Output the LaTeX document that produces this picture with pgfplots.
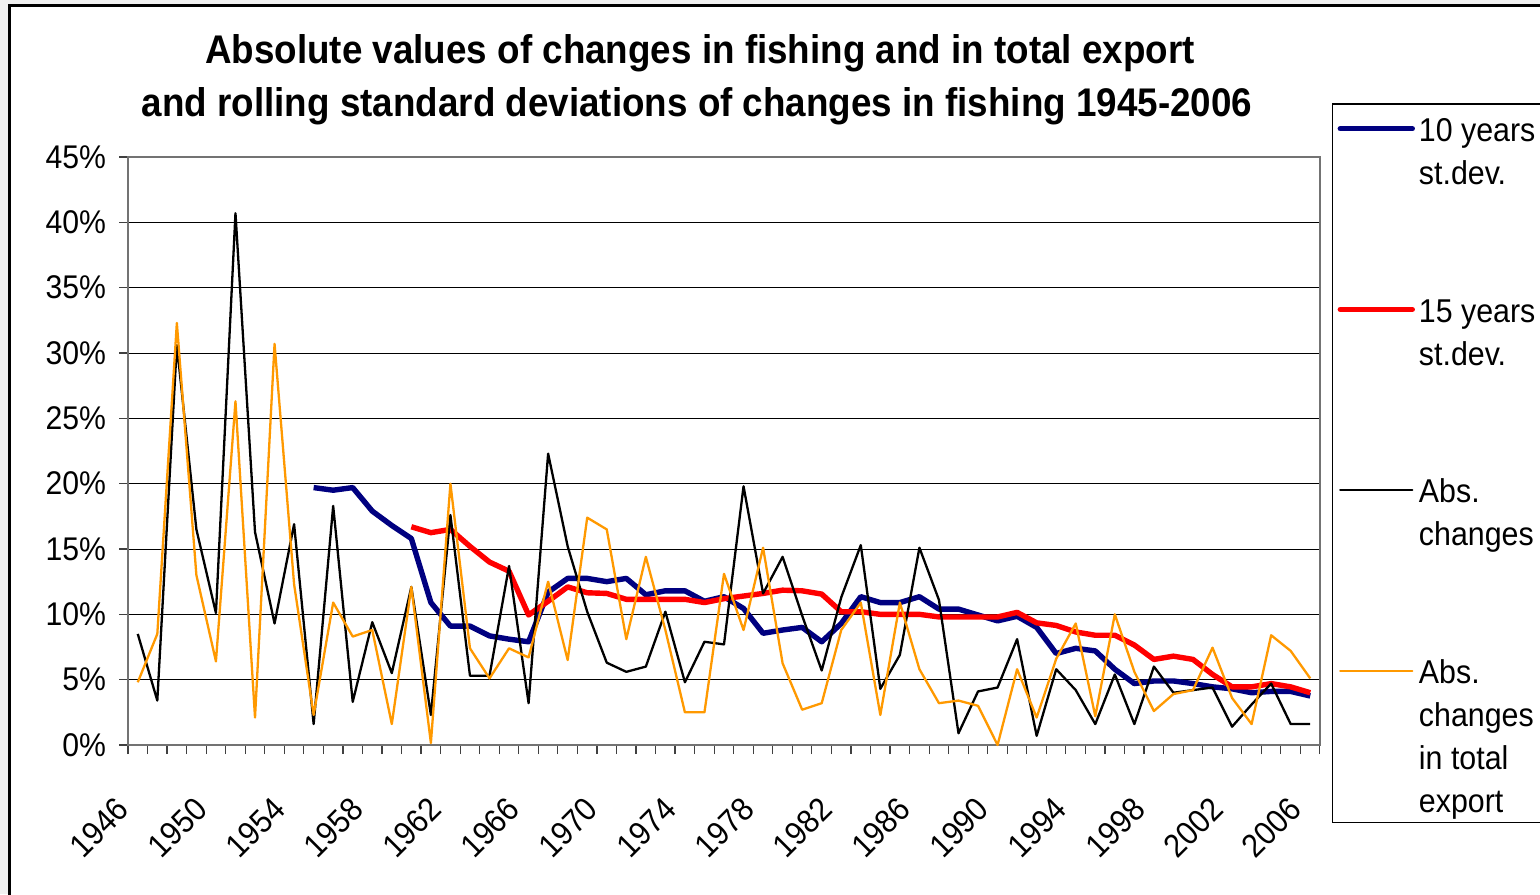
\documentclass[border=0pt]{standalone}
\usepackage{fontspec}
\setmainfont{Liberation Sans}[FakeStretch=0.92]
\usepackage{pgfplots}
\pgfplotsset{compat=1.18}

\definecolor{xlNavy}{RGB}{0,0,128}
\definecolor{xlRed}{RGB}{255,0,0}
\definecolor{xlOrange}{RGB}{255,153,0}

\newcommand{\tickfont}{\fontsize{16.4}{19}\selectfont}
\newcommand{\legfont}{\fontsize{16.5}{21.5}\selectfont}
\newcommand{\titlefont}{\fontsize{20}{26}\selectfont\bfseries}

\begin{document}
\begin{tikzpicture}
% picture frame: 1540x894 px at 0.5pt per px, origin at the plot's lower left corner
\useasboundingbox (-64pt,-74.5pt) rectangle (706pt,372.5pt);
\clip (-64pt,-74.5pt) rectangle (706pt,372.5pt);
\fill[black!6] (-64pt,-74.5pt) rectangle (706pt,372.5pt);
\fill[white] (-59pt,-80pt) rectangle (710pt,369.5pt);
\draw[black,line width=1.5pt] (-59pt,-80pt) -- (-59pt,369.5pt) -- (710pt,369.5pt);

\node[font=\titlefont,anchor=base] at (286pt,340.5pt)
  {Absolute values of changes in fishing and in total export};
\node[font=\titlefont,anchor=base] at (284.5pt,314pt)
  {and rolling standard deviations of changes in fishing 1945-2006};

\begin{axis}[
    at={(0pt,0pt)}, anchor=south west,
    scale only axis,
    width=596pt, height=294pt,
    xmin=1945.5, xmax=2006.5,
    ymin=0, ymax=45,
    clip=false,
    tick pos=left,
    xtick={1945.5,1946.5,...,2006.5},
    xticklabels={},
    extra x ticks={1946,1950,1954,1958,1962,1966,1970,1974,1978,1982,1986,1990,1994,1998,2002,2006},
    extra x tick labels={1946,1950,1954,1958,1962,1966,1970,1974,1978,1982,1986,1990,1994,1998,2002,2006},
    extra x tick style={major tick length=0pt, grid=none},
    ytick={0,5,...,45},
    yticklabel={\pgfmathprintnumber{\tick}\%},
    /pgf/number format/assume math mode=true,
    ymajorgrids=true,
    major grid style={draw=black, line width=0.5pt},
    tick align=outside,
    major tick length=4.5pt,
    tick style={draw=black!75, line width=0.6pt},
    axis line style={draw=black!55, line width=1pt},
    tick label style={font=\tickfont},
    x tick label style={rotate=45, anchor=east, xshift=-7pt},
    xticklabel shift=22pt,
    yticklabel shift=3pt,
    legend cell align=left,
    legend style={
        at={(1.0098,1.0913)}, anchor=north west,
        draw=black, line width=0.6pt, fill=white,
        inner xsep=2.65pt, inner ysep=3.4pt,
        row sep=52pt, column sep=0pt,
        nodes={inner xsep=2pt, inner ysep=0pt, font=\legfont, align=left, anchor=north west}
    },
    legend image code/.code={\draw[#1,line cap=round] (0pt,-9pt) -- (36pt,-9pt);},
]

% 10 years st.dev.
\addplot[xlNavy, line width=2.7pt, line join=round] coordinates {
(1955,19.7)(1956,19.5)(1957,19.7)(1958,17.9)(1959,16.8)(1960,15.8)
(1961,10.9)(1962,9.1)(1963,9.1)(1964,8.35)(1965,8.1)(1966,7.9)
(1967,11.7)(1968,12.75)(1969,12.75)(1970,12.5)(1971,12.75)(1972,11.5)
(1973,11.8)(1974,11.8)(1975,11.0)(1976,11.35)(1977,10.45)(1978,8.55)
(1979,8.8)(1980,9.0)(1981,7.9)(1982,9.3)(1983,11.35)(1984,10.9)
(1985,10.9)(1986,11.35)(1987,10.4)(1988,10.4)(1989,9.95)(1990,9.5)
(1991,9.85)(1992,9.0)(1993,7.0)(1994,7.4)(1995,7.2)(1996,5.8)
(1997,4.7)(1998,4.9)(1999,4.9)(2000,4.7)(2001,4.45)(2002,4.3)
(2003,4.0)(2004,4.1)(2005,4.1)(2006,3.75)
};
\addlegendentry{\strut 10 years\\st.dev.\strut}

% 15 years st.dev.
\addplot[xlRed, line width=2.7pt, line join=round] coordinates {
(1960,16.7)(1961,16.25)(1962,16.5)(1963,15.2)(1964,14.0)(1965,13.3)
(1966,9.95)(1967,11.0)(1968,12.1)(1969,11.65)(1970,11.6)(1971,11.15)
(1972,11.15)(1973,11.15)(1974,11.15)(1975,10.9)(1976,11.2)(1977,11.4)
(1978,11.6)(1979,11.85)(1980,11.8)(1981,11.55)(1982,10.2)(1983,10.2)
(1984,10.0)(1985,10.0)(1986,10.0)(1987,9.8)(1988,9.8)(1989,9.8)
(1990,9.8)(1991,10.15)(1992,9.35)(1993,9.15)(1994,8.65)(1995,8.4)
(1996,8.4)(1997,7.65)(1998,6.55)(1999,6.8)(2000,6.55)(2001,5.4)
(2002,4.45)(2003,4.45)(2004,4.7)(2005,4.45)(2006,4.0)
};
\addlegendentry{\strut 15 years\\st.dev.\strut}

% absolute changes in fishing
\addplot[black, line width=1.15pt, line join=round] coordinates {
(1946,8.5)(1947,3.4)(1948,30.6)(1949,16.5)(1950,10.1)(1951,40.7)
(1952,16.3)(1953,9.3)(1954,16.9)(1955,1.6)(1956,18.3)(1957,3.3)
(1958,9.4)(1959,5.5)(1960,12.1)(1961,2.3)(1962,17.6)(1963,5.3)
(1964,5.3)(1965,13.7)(1966,3.2)(1967,22.3)(1968,15.2)(1969,10.2)
(1970,6.3)(1971,5.6)(1972,6.0)(1973,10.2)(1974,4.8)(1975,7.9)
(1976,7.7)(1977,19.8)(1978,11.6)(1979,14.4)(1980,9.9)(1981,5.7)
(1982,11.3)(1983,15.3)(1984,4.3)(1985,6.9)(1986,15.1)(1987,11.1)
(1988,0.9)(1989,4.1)(1990,4.4)(1991,8.1)(1992,0.7)(1993,5.8)
(1994,4.2)(1995,1.6)(1996,5.4)(1997,1.6)(1998,6.0)(1999,4.0)
(2000,4.2)(2001,4.4)(2002,1.4)(2003,3.1)(2004,4.7)(2005,1.6)
(2006,1.6)
};
\addlegendentry{\strut Abs.\\changes\strut}

% absolute changes in total export
\addplot[xlOrange, line width=1.15pt, line join=round] coordinates {
(1946,4.8)(1947,8.5)(1948,32.3)(1949,13.0)(1950,6.4)(1951,26.3)
(1952,2.1)(1953,30.7)(1954,12.3)(1955,2.3)(1956,10.9)(1957,8.3)
(1958,8.8)(1959,1.6)(1960,12.1)(1961,0.15)(1962,20.0)(1963,7.4)
(1964,5.1)(1965,7.4)(1966,6.7)(1967,12.5)(1968,6.5)(1969,17.4)
(1970,16.5)(1971,8.1)(1972,14.4)(1973,8.8)(1974,2.5)(1975,2.5)
(1976,13.1)(1977,8.8)(1978,15.1)(1979,6.25)(1980,2.7)(1981,3.2)
(1982,8.8)(1983,10.9)(1984,2.3)(1985,10.9)(1986,5.8)(1987,3.2)
(1988,3.4)(1989,3.0)(1990,0.0)(1991,5.8)(1992,2.1)(1993,6.6)
(1994,9.3)(1995,2.2)(1996,10.0)(1997,5.6)(1998,2.6)(1999,3.9)
(2000,4.2)(2001,7.45)(2002,3.6)(2003,1.6)(2004,8.4)(2005,7.2)
(2006,5.1)
};
\addlegendentry{\strut Abs.\\changes\\in total\\export\rule[-9.9pt]{0pt}{1pt}}

\end{axis}
\end{tikzpicture}
\end{document}
